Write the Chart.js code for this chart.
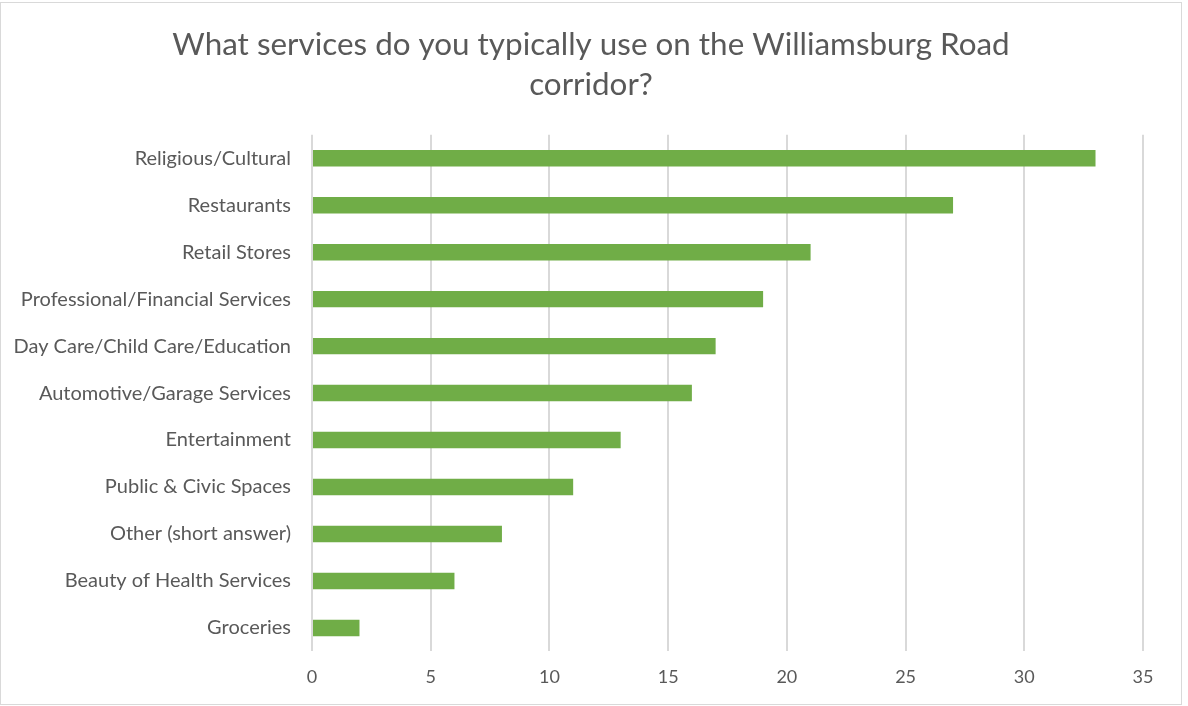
<!DOCTYPE html>
<html>
<head>
<meta charset="utf-8">
<script src="https://cdn.jsdelivr.net/npm/chart.js@4/dist/chart.umd.min.js"></script>
<style>
  html, body { margin: 0; padding: 0; background: #ffffff; }
  #frame {
    position: absolute; left: 0; top: 2px;
    width: 1182px; height: 703px;
    border: 1px solid #d9d9d9; box-sizing: border-box;
  }
  #wrap { position: absolute; left: 0; top: 0; width: 1188px; height: 706px; }
</style>
</head>
<body>
<div id="frame"></div>
<div id="wrap"><canvas id="chart" width="1188" height="706"></canvas></div>
<script>
  // Survey answers, most common first
  const categories = [
    'Religious/Cultural',
    'Restaurants',
    'Retail Stores',
    'Professional/Financial Services',
    'Day Care/Child Care/Education',
    'Automotive/Garage Services',
    'Entertainment',
    'Public & Civic Spaces',
    'Other (short answer)',
    'Beauty of Health Services',
    'Groceries'
  ];
  const counts = [33, 27, 21, 19, 17, 16, 13, 11, 8, 6, 2];
  const xTicks = [0, 5, 10, 15, 20, 25, 30, 35];

  const textGray = '#595959';
  const fontFamily = 'Lato, "Open Sans", sans-serif';

  // centre the title on the frame rather than on the padded chart box
  const titleShift = {
    id: 'titleShift',
    afterLayout: function (chart) {
      if (chart.titleBlock) chart.titleBlock.left += 31;
    }
  };

  const ctx = document.querySelector('#chart').getContext('2d');
  new Chart(ctx, {
    type: 'bar',
    data: {
      labels: categories,
      datasets: [{
        data: counts,
        backgroundColor: '#70ad47',
        borderWidth: 0,
        categoryPercentage: 1,
        barPercentage: 0.35
      }]
    },
    options: {
      indexAxis: 'y',
      responsive: false,
      animation: false,
      layout: { padding: { left: 8, right: 45, top: 25, bottom: 3 } },
      plugins: {
        legend: { display: false },
        tooltip: { enabled: false },
        title: {
          display: true,
          text: ['What services do you typically use on the Williamsburg Road', 'corridor?'],
          color: textGray,
          font: { family: fontFamily, size: 31.4, weight: 'normal', lineHeight: 1.27 },
          padding: { top: 0, bottom: 30 }
        }
      },
      scales: {
        x: {
          min: 0,
          max: 35,
          afterBuildTicks: function (scale) {
            scale.ticks = xTicks.map(function (v) { return { value: v }; });
          },
          grid: { color: '#d9d9d9', lineWidth: 2, drawTicks: false },
          border: { display: false },
          ticks: { color: textGray, font: { family: fontFamily, size: 18 }, padding: 15 }
        },
        y: {
          grid: { display: false },
          border: { display: false },
          // fixed axis width so the plot starts at x = 312
          afterFit: function (scale) { scale.width = 304; },
          ticks: { color: textGray, font: { family: fontFamily, size: 20 }, padding: 13 }
        }
      }
    },
    plugins: [titleShift]
  });
</script>
</body>
</html>
